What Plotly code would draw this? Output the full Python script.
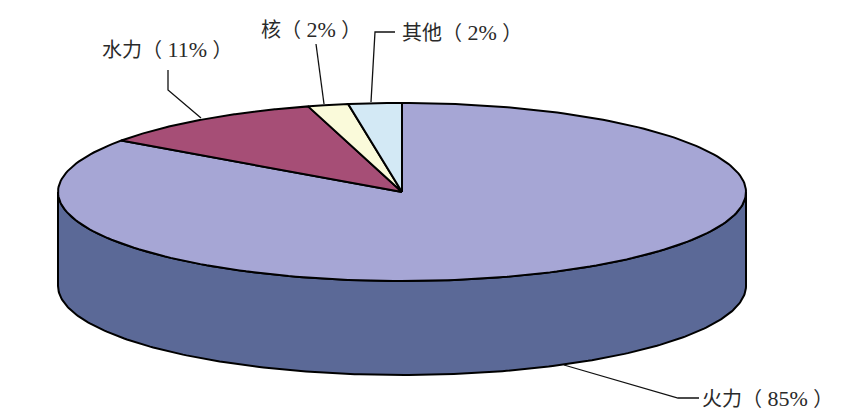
"""Thick pie of generation shares, drawn as filled outlines on pixel-sized axes."""

import numpy as np
import plotly.graph_objects as go

# shares as drawn, clockwise from 12 o'clock
sources = ["火力", "水力", "核", "其他"]
shares = [84.8, 10.8, 1.9, 2.5]
share_labels = ["85%", "11%", "2%", "2%"]
slice_colors = ["#A6A6D5", "#A64E76", "#FAFADA", "#D3E9F5"]
side_color = "#5B6997"

CX, CY = 402, 192
RX, RY = 344, 89
DEPTH = 94
LINE = dict(color="#000000", width=2)
FONT = dict(family='"Liberation Serif", "Noto Sans CJK SC", serif', size=20, color="#2a2a2a")

# leader lines and label anchors, one per source
leader_x = [[564, 678, 699], [201, 168, 168], [324, 316], [371, 375, 395]]
leader_y = [[365, 398, 398], [118, 90, 70], [104, 44], [102, 32, 32]]
label_x = [700, 100, 259, 400]
label_y = [398, 49, 29, 32]


def rim(start_deg, end_deg, drop=0):
    theta = np.radians(np.linspace(start_deg, end_deg, 240))
    return CX + RX * np.sin(theta), CY - RY * np.cos(theta) + drop


def add_shape(fig, x, y, color):
    fig.add_trace(go.Scatter(x=x, y=y, mode="lines", fill="toself", fillcolor=color, line=LINE, hoverinfo="skip"))


fig = go.Figure()

# the wall: only the lower half of the rim can be seen
top_x, top_y = rim(90, 270)
low_x, low_y = rim(270, 90, DEPTH)
add_shape(fig, np.r_[top_x, low_x, top_x[0]], np.r_[top_y, low_y, top_y[0]], side_color)

edges = np.r_[0, np.cumsum(shares)] / sum(shares) * 360
for color, start, end in zip(slice_colors, edges[:-1], edges[1:]):
    x, y = rim(start, end)
    add_shape(fig, np.r_[CX, x, CX], np.r_[CY, y, CY], color)

for x, y in zip(leader_x, leader_y):
    fig.add_trace(go.Scatter(x=x, y=y, mode="lines", line=dict(color="#111111", width=1.3), hoverinfo="skip"))

# the digits run a little larger than the CJK text and sit loose inside the brackets
for source, share, x, y in zip(sources, share_labels, label_x, label_y):
    text = f'{source}（<span style="font-size:22px">\u00a0{share}\u00a0</span>）'
    fig.add_annotation(x=x, y=y, text=text, showarrow=False, xanchor="left", font=FONT)

fig.update_layout(
    width=856,
    height=415,
    margin=dict(l=0, r=0, t=0, b=0),
    paper_bgcolor="white",
    plot_bgcolor="white",
    showlegend=False,
    xaxis=dict(range=[0, 856], visible=False),
    yaxis=dict(range=[415, 0], visible=False),
)

fig.write_html("out.html", config=dict(displayModeBar=False), post_script="document.body.style.margin = '0';")
